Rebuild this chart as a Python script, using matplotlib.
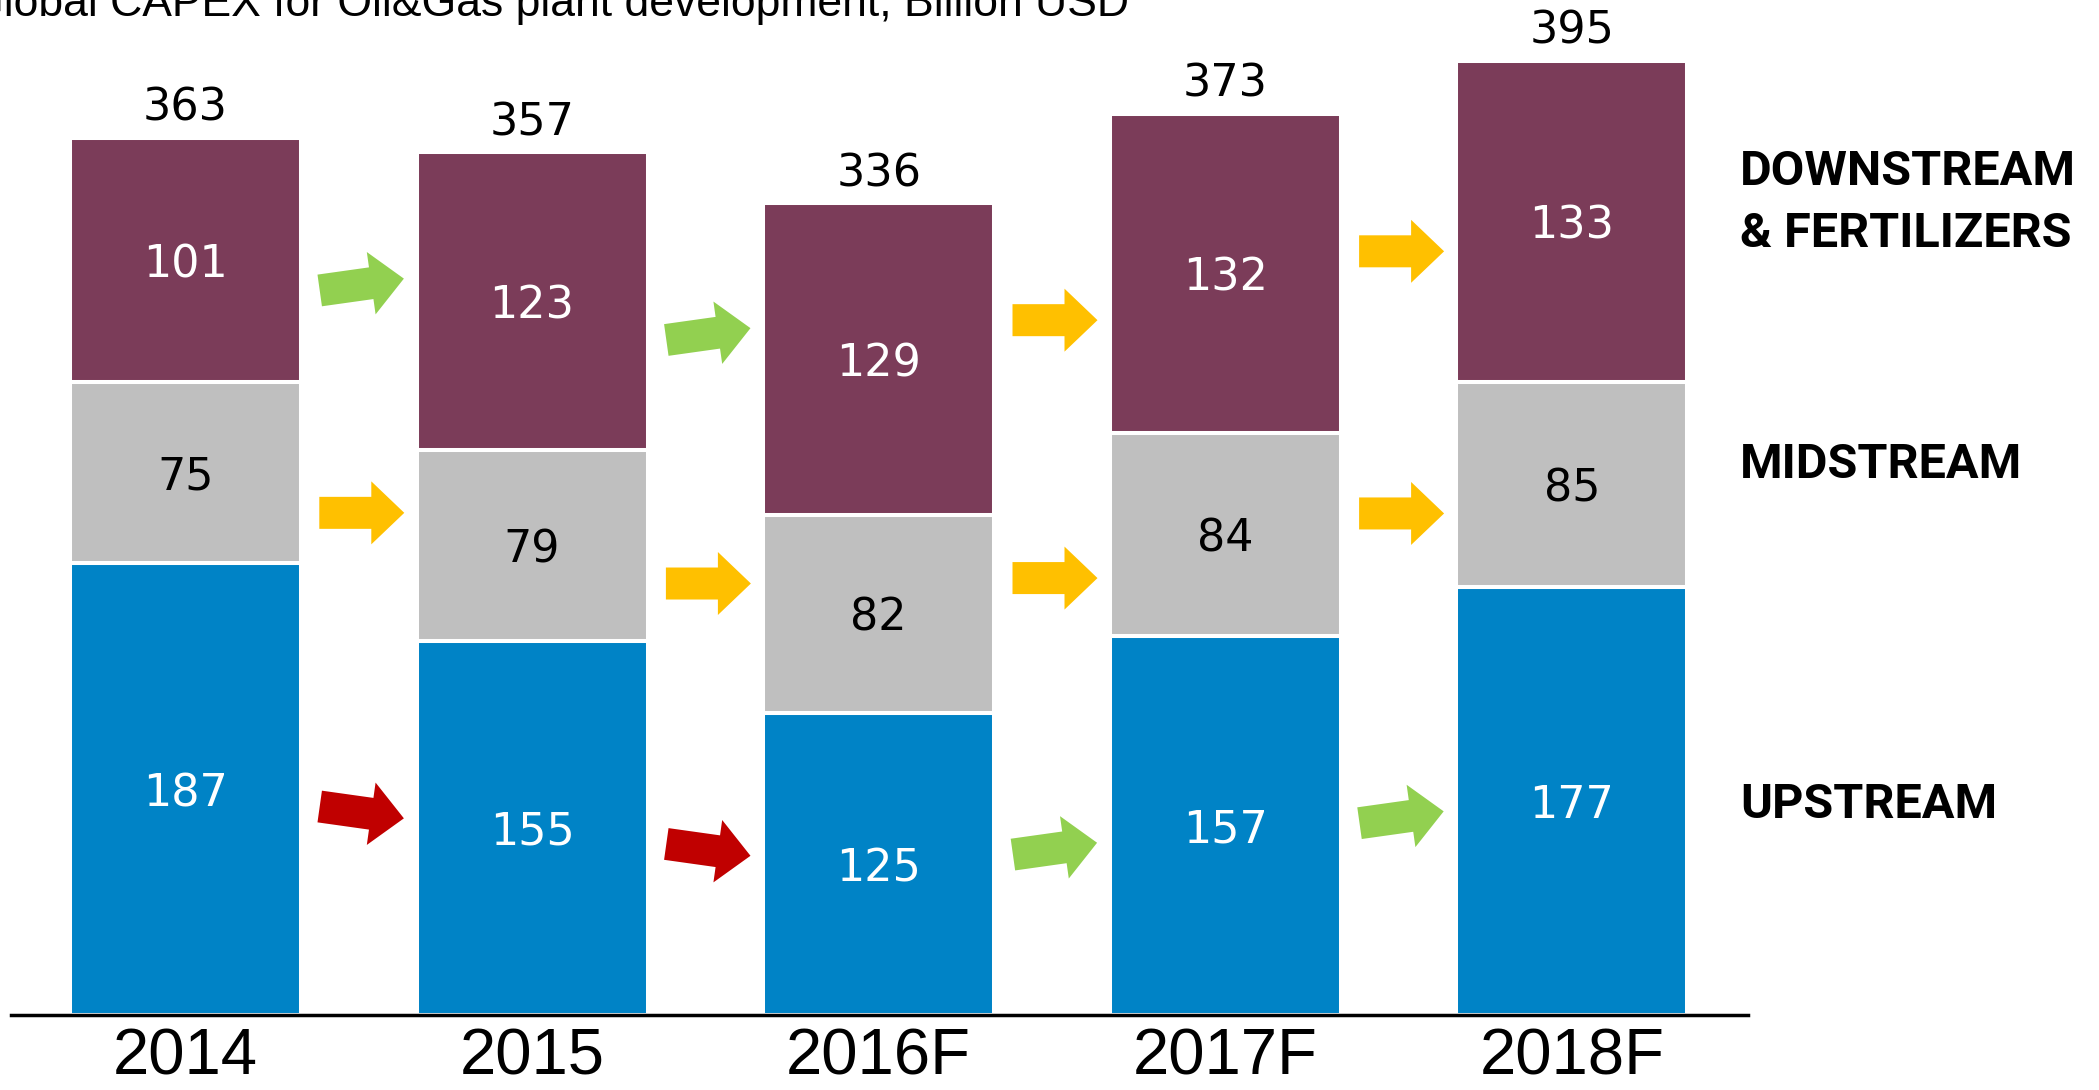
import matplotlib
matplotlib.use("Agg")
import matplotlib.pyplot as plt
import matplotlib.transforms as mtransforms
from matplotlib.patches import Polygon
import numpy as np

# ---------------- data ----------------
years = ["2014", "2015", "2016F", "2017F", "2018F"]
upstream = [187, 155, 125, 157, 177]
midstream = [75, 79, 82, 84, 85]
downstream = [101, 123, 129, 132, 133]
series_names = ["UPSTREAM", "MIDSTREAM", "DOWNSTREAM\n& FERTILIZERS"]
title = "Global CAPEX for Oil&Gas plant development, Billion USD"

# ---------------- style ----------------
col_up = "#0083C6"
col_mid = "#BFBFBF"
col_down = "#7B3C59"
arrow_cols = {"up": "#92D050", "flat": "#FFC000", "down": "#C00000"}
trend_threshold = 5

W, H = 2099, 1090
fig = plt.figure(figsize=(W / 100, H / 100), dpi=100)
ax = fig.add_axes([11 / W, (H - 1015) / H, (1748 - 11) / W, 1015 / H])

x = np.arange(len(years))
spacing = 346.6
ax.set_xlim(-(185.5 - 11) / spacing, (1748 - 185.5) / spacing)
ax.set_ylim(0, 1015 / 2.416)

bw = 231 / spacing
series = [upstream, midstream, downstream]
colors = [col_up, col_mid, col_down]
txtcols = ["white", "black", "white"]
bottom = np.zeros(len(years))
centers = []
for vals, c, tc in zip(series, colors, txtcols):
    vals = np.array(vals, dtype=float)
    ax.bar(x, vals, bw, bottom=bottom, color=c, edgecolor="white",
           linewidth=2.9, zorder=2)
    cen = bottom + vals / 2
    centers.append(cen)
    for xi, yi, v in zip(x, cen, vals):
        ax.text(xi, yi, f"{int(v)}", ha="center", va="center_baseline",
                fontsize=32, color=tc, family="DejaVu Sans", zorder=4)
    bottom = bottom + vals

totals = bottom
for xi, t in zip(x, totals):
    ax.annotate(f"{int(t)}", (xi, t), xytext=(0, 24.5), textcoords="offset points",
                ha="center", va="center_baseline", fontsize=32,
                family="DejaVu Sans", color="black")

# arrows between bars
L, sh, hh, hl = 85, 16, 31.5, 33
base = np.array([[-L / 2, -sh], [L / 2 - hl, -sh], [L / 2 - hl, -hh], [L / 2, 0],
                 [L / 2 - hl, hh], [L / 2 - hl, sh], [-L / 2, sh]])
for vals, cen in zip(series, centers):
    for i in range(len(years) - 1):
        d = vals[i + 1] - vals[i]
        if d >= trend_threshold:
            kind, ang = "up", 8
        elif d <= -trend_threshold:
            kind, ang = "down", -8
        else:
            kind, ang = "flat", 0
        xm = i + 0.5
        ym = (cen[i] + cen[i + 1]) / 2
        tr = mtransforms.Affine2D().rotate_deg(ang).translate(3, -4) + \
            mtransforms.ScaledTranslation(xm, ym, ax.transData)
        p = Polygon(base, closed=True, facecolor=arrow_cols[kind],
                    edgecolor="none", transform=tr, zorder=3)
        fig.add_artist(p)

# axes styling
for s in ["top", "right", "left"]:
    ax.spines[s].set_visible(False)
ax.spines["bottom"].set_linewidth(2.5)
ax.spines["bottom"].set_color("black")
ax.spines["bottom"].set_zorder(5)
ax.set_yticks([])
ax.set_xticks(x)
ax.set_xticklabels([])
ax.tick_params(axis="x", length=0)
for xi, yr in zip(x, years):
    ax.annotate(yr, (xi, 0), xytext=(0, -42.5), textcoords="offset points",
                ha="center", va="baseline", fontsize=47,
                family="Liberation Sans", annotation_clip=False)

# right-side series labels
lab_pos = [(1740, 805), (1740, 465), (1740, 203)]
for name, (px, py) in zip(series_names, lab_pos):
    fig.text(px / W, 1 - py / H, name, ha="left", va="center", fontsize=35,
             fontweight="bold", family=["Roboto", "Liberation Sans"],
             linespacing=1.45)

fig.text(-31 / W, 1 - 16 / H, title, ha="left", va="baseline", fontsize=32,
         family=["Liberation Sans Narrow", "Liberation Sans"])

fig.savefig("out.png", dpi=100)
